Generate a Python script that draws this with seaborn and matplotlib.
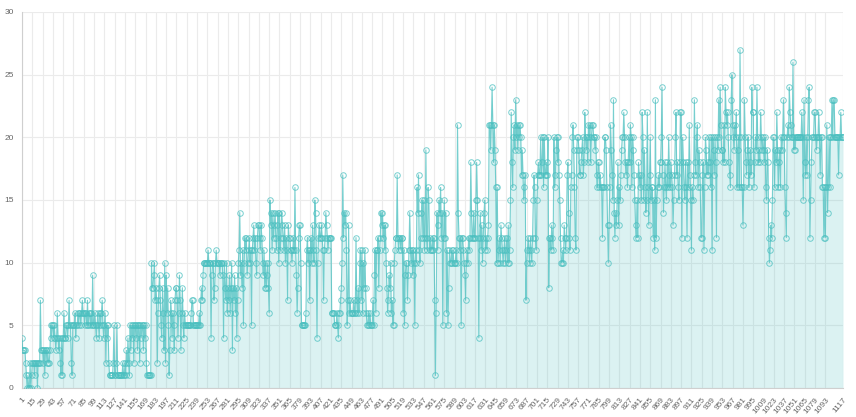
import numpy as np
import pandas as pd
import matplotlib
matplotlib.use("Agg")
import matplotlib.pyplot as plt
import seaborn as sns

# ---- data (in order) ----
values_part1 = [
    4,3,3,3,3,2,1,0,1,0,0,2,0,1,
    2,2,2,1,2,2,2,0,2,2,2,7,3,3,
    3,2,3,1,3,3,2,3,2,2,3,5,4,5,
    5,4,5,4,3,4,6,4,3,4,2,1,4,1,
    4,6,4,4,5,5,4,5,7,5,5,2,1,5,
    5,5,6,4,5,5,6,5,6,6,5,6,7,6,
    6,5,6,6,5,7,5,6,6,5,6,5,9,5,
    5,6,5,4,5,6,5,4,6,5,6,7,5,4,
    5,6,2,5,4,5,2,1,1,1,1,1,2,5,
    1,1,2,5,1,1,1,1,1,1,1,2,1,1,
]
values_part2 = [
    2,1,3,2,4,2,1,5,3,5,4,5,2,5,
    5,4,5,3,5,5,2,5,4,5,5,3,5,4,
    5,2,1,1,1,1,1,1,10,8,8,9,10,7,
    8,7,2,6,8,9,7,5,4,8,6,3,10,2,
    9,6,8,5,1,3,7,6,4,6,5,3,7,8,
    8,7,4,6,9,7,3,6,8,5,4,6,5,5,
    5,5,5,5,5,5,6,7,7,5,5,5,5,5,
    5,5,5,6,5,7,8,7,9,10,10,10,10,10,
    10,11,10,10,10,4,9,10,10,7,8,10,11,10,
    10,10,10,9,10,10,10,9,4,10,8,7,10,6,
]
values_part3 = [
    8,7,9,6,8,10,3,8,7,9,6,8,4,7,
    10,11,14,9,10,8,11,5,10,12,11,12,9,10,
    11,12,10,11,5,11,12,13,11,12,10,9,12,13,
    13,12,11,13,12,10,9,11,8,10,8,9,10,8,
    6,15,13,14,11,14,12,13,14,12,11,13,14,10,
    14,11,12,14,13,12,11,13,10,12,11,7,13,12,
    12,11,11,10,11,12,11,16,11,9,6,8,12,13,
    13,10,5,5,5,5,5,5,6,11,12,10,11,7,
    11,12,10,13,11,10,15,14,11,4,10,12,13,12,
    12,13,12,11,7,11,12,14,13,12,11,12,12,12,
]
values_part4 = [
    12,6,6,6,6,5,5,5,6,5,4,6,6,7,
    8,10,17,12,14,13,14,11,5,7,13,6,7,6,
    6,6,6,7,6,6,12,7,6,8,6,10,11,7,
    11,6,10,8,11,8,6,5,5,6,5,6,5,5,
    5,7,5,9,11,6,11,11,12,8,11,12,14,13,
    14,12,13,11,13,10,8,6,7,9,8,10,6,7,
    5,5,10,11,12,12,17,12,11,12,12,11,12,12,
    6,11,5,9,10,10,7,9,11,14,11,10,11,9,
    11,10,5,11,10,16,14,17,11,10,12,14,15,12,
    15,11,12,19,12,11,16,15,11,12,11,11,12,11,
]
values_part5 = [
    12,7,1,6,14,11,13,15,14,16,12,14,5,12,
    15,12,14,6,11,5,8,11,10,10,11,10,11,10,
    10,10,11,10,21,14,12,11,12,5,12,12,11,10,
    9,7,10,11,10,12,11,12,18,14,12,12,14,12,
    12,15,18,15,12,4,12,14,11,13,10,12,14,15,
    11,12,11,12,13,21,21,19,21,24,21,18,21,19,
    16,10,16,10,11,12,10,13,12,11,10,11,12,10,
    11,12,10,13,10,11,15,22,18,16,20,21,19,23,
    20,21,19,21,20,21,20,17,19,17,15,16,17,7,
    10,11,12,11,10,12,11,10,12,15,17,16,12,11,
]
values_part6 = [
    15,17,18,17,17,20,17,18,20,16,20,17,17,18,
    17,20,8,12,12,11,13,12,11,20,16,17,19,20,
    18,20,17,15,12,10,10,11,10,13,12,11,12,17,
    18,14,12,11,16,17,20,21,19,16,12,11,19,20,
    20,19,17,17,18,19,20,17,18,22,20,19,20,18,
    21,20,21,18,20,21,21,20,20,19,20,17,16,18,
    18,16,17,16,16,12,16,16,20,20,19,16,13,10,
    13,16,21,19,17,15,23,14,12,14,13,15,18,13,
    16,15,17,19,20,20,22,20,18,17,18,16,18,20,
    18,21,20,16,20,19,17,15,13,12,15,12,18,17,
]
values_part7 = [
    16,17,15,22,20,15,19,16,14,15,22,16,13,17,
    20,15,16,16,12,15,11,23,12,15,16,17,16,18,
    18,20,24,17,14,16,18,16,15,18,16,20,17,16,
    18,17,16,13,15,17,20,22,17,18,16,15,18,22,
    22,12,20,18,16,15,18,16,12,18,16,21,17,15,
    11,16,15,17,23,18,17,20,21,16,19,18,16,12,
    12,17,18,11,16,20,19,17,18,17,20,18,16,20,
    11,20,19,17,20,18,12,20,19,23,20,24,21,19,
    19,18,21,18,24,22,21,22,20,18,17,16,23,25,
    21,20,19,21,20,22,16,19,20,16,27,20,16,16,
]
values_part8 = [
    13,16,23,20,18,17,19,20,16,18,19,17,24,22,
    22,16,18,20,19,24,20,18,19,18,22,20,19,20,
    19,18,20,16,15,19,18,12,10,11,13,12,15,20,
    20,16,19,18,22,19,16,18,19,16,20,19,20,23,
    20,16,14,12,20,21,20,24,22,21,20,20,26,19,
    20,19,20,20,20,20,20,20,20,20,22,20,15,23,
    18,17,20,17,20,23,24,12,15,18,20,20,20,22,
    22,20,19,20,20,22,20,17,20,20,16,16,12,16,
    12,16,21,14,16,20,16,20,20,23,20,23,23,20,
    20,20,20,20,17,20,20,22,20,20,20,
]
y_ticks = [0, 5, 10, 15, 20, 25, 30]
label_step = 14

values = (values_part1 + values_part2 + values_part3 + values_part4 +
          values_part5 + values_part6 + values_part7 + values_part8)
n = len(values)
df = pd.DataFrame({"idx": np.arange(n), "value": values})

# ---- style ----
sns.set_style("white")
plt.rcParams["font.family"] = ["Liberation Sans", "DejaVu Sans"]

teal = (75/255, 192/255, 192/255)
fig = plt.figure(figsize=(8.56, 4.17), dpi=100)
ax = fig.add_axes([22/856, (417-388)/417, (843-22)/856, (388-12)/417])

ax.fill_between(df["idx"], df["value"], 0, color=teal, alpha=0.2, linewidth=0, zorder=1)
sns.lineplot(data=df, x="idx", y="value", ax=ax, color=(*teal, 0.75), linewidth=0.8,
             marker="o", markersize=4.0, zorder=3, legend=False)
for ln in ax.lines:
    ln.set_alpha(None)
    ln.set_color((*teal, 0.75))
    ln.set_markerfacecolor((1, 1, 1, 0.0))
    ln.set_markeredgecolor((*teal, 0.75))
    ln.set_markeredgewidth(0.7)

ax.set_xlim(0, n - 1)
ax.set_ylim(y_ticks[0], y_ticks[-1])

ticks = list(range(0, n, label_step))
if (n - 1) - ticks[-1] < label_step:
    ticks[-1] = n - 1
else:
    ticks.append(n - 1)
ax.set_xticks(ticks)
ax.set_xticklabels([str(t + 1) for t in ticks], rotation=50, ha="right",
                   va="top", rotation_mode="anchor", fontsize=6.0, color="#666666")
ax.set_yticks(y_ticks)
ax.set_yticklabels([str(v) for v in y_ticks], fontsize=6.0, color="#666666")

ax.grid(True, color="#ebebeb", linewidth=0.8, zorder=0)
ax.set_axisbelow(True)
ax.tick_params(axis="both", length=4, width=0.8, color="#ebebeb", pad=2)
for side in ["top", "right"]:
    ax.spines[side].set_visible(False)
for side in ["left", "bottom"]:
    ax.spines[side].set_color("#cfcfcf")
    ax.spines[side].set_linewidth(0.8)
ax.set_xlabel("")
ax.set_ylabel("")

fig.savefig("out.png", dpi=100)
